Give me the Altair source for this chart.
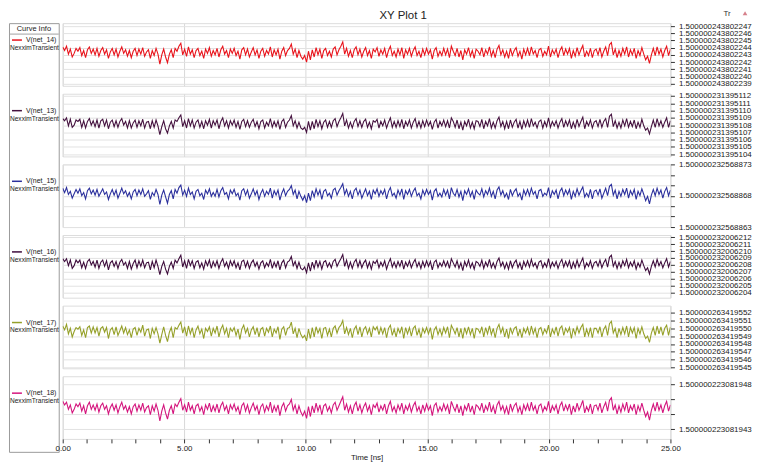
import json
import altair as alt
import numpy as np
import pandas as pd

TITLE = "XY Plot 1"
X_TITLE = "Time [ns]"
LEGEND_HEADER = "Curve Info"
SOURCE = "NexximTransient"
CORNER_TEXT = "Tr"
SERIES_NAMES = ["V(net_14)", "V(net_13)", "V(net_15)", "V(net_16)", "V(net_17)", "V(net_18)"]
COLORS = ["#e8141c", "#45123f", "#2b2f9c", "#3e0c3c", "#95a029", "#d4157d"]
PREFIXES = ["1.500000243802", "1.500000231395", "1.500000232568",
            "1.500000232006", "1.500000263419", "1.50000022308"]
# level of each trace (last digits of the voltage, in 1e-15 V)
BASES = [243.3, 108.2, 868.3, 208.1, 549.6, 1945.3]
DOMAINS = [[238.7, 247.4], [103.7, 112.3], [863, 873], [203.3, 212.3], [544.9, 552.9], [1941.9, 1948.9]]
TICKS = [list(range(239, 248)), list(range(104, 113)),
         [863, 864.667, 866.333, 868, 869.667, 871.333, 873],
         list(range(204, 213)), list(range(545, 553)),
         [1943, 1944.667, 1946.333, 1948]]
LABELED = [list(range(239, 248)), list(range(104, 113)), [863, 868, 873],
           list(range(204, 213)), list(range(545, 553)), [1943, 1948]]
X_TICKS = list(range(0, 26))

# deviations from the trace level, in units of 0.1e-15 V
NET14 = [8,3,9,-2,5,-6,-1,6,2,7,-4,3,-7,4,8,-1,5,-3,6,-5,
         3,7,-2,4,-8,1,6,-3,5,-6,2,8,-1,4,-5,3,-7,2,6,-4,
         5,-2,7,-5,1,4,-8,3,-4,6,-2,-16,-3,5,-6,-14,-2,4,-7,6,
         2,9,13,-3,5,-5,8,-2,4,-7,3,6,-4,2,-8,5,-1,7,-5,3,
         -3,6,-6,4,9,-2,3,-7,5,-1,6,-4,2,-9,4,7,-3,5,-6,1,
         7,-3,4,-8,2,6,-5,3,-2,8,-6,4,-3,5,-9,2,7,-4,3,6,
         12,-2,5,-7,3,-5,-9,-4,-13,2,-10,4,-6,7,-3,5,-8,3,6,-4,
         2,-6,5,8,-3,4,9,15,-2,6,-5,3,-7,4,8,-3,5,-6,2,7,
         -4,3,-8,5,1,7,-5,4,-2,6,-7,3,9,-4,2,-6,5,-3,7,-8,
         4,-2,6,-5,3,8,-4,2,-7,5,-3,6,-2,4,-9,3,7,-5,2,-4,
         6,-3,5,-7,9,2,-4,6,-6,3,-10,4,-2,7,-5,3,-8,5,2,-3,
         7,-6,4,-2,8,-5,3,-7,5,10,-3,4,-6,2,-8,6,-4,3,7,-5,
         2,-9,5,-3,6,-4,8,-2,3,-7,4,6,-5,2,-3,9,-6,4,-2,5,
         -7,3,8,-4,5,-2,6,-8,3,-5,7,-3,4,10,-6,2,-4,6,-7,3,
         5,-3,7,-6,2,8,-4,11,14,-3,5,-7,3,-5,6,-2,8,-6,4,-3,
         6,-8,3,-4,7,-2,-10,-5,-15,-3,6,-4,8,-2,5,-6,3,9,-4,5]
NET13 = [7,4,8,-3,6,-5,-2,5,3,6,-5,4,-6,3,7,-2,4,-4,5,-6,
         4,6,-3,5,-7,2,5,-4,4,-5,3,7,-2,3,-6,4,-6,1,5,-5,
         4,-3,6,-6,2,3,-7,4,-5,5,-3,-15,-4,4,-7,-13,-3,3,-6,5,
         3,8,12,-4,4,-6,7,-3,5,-6,2,5,-5,3,-7,4,-2,6,-6,4,
         -2,5,-7,3,8,-3,4,-6,4,-2,5,-5,3,-8,3,6,-4,4,-5,2,
         6,-4,3,-7,3,5,-6,2,-3,7,-5,3,-4,4,-8,3,6,-5,2,5,
         11,-3,4,-6,2,-6,-8,-5,-12,3,-9,3,-7,6,-4,4,-7,2,5,-5,
         3,-5,4,7,-4,3,8,14,-3,5,-6,2,-6,3,7,-4,4,-5,3,6,
         -5,2,-7,4,2,6,-6,3,-3,5,-6,2,8,-5,3,-5,4,-4,6,-7,
         3,-3,5,-6,2,7,-5,3,-6,4,-4,5,-3,3,-8,2,6,-6,3,-3,
         5,-4,4,-6,8,3,-5,5,-7,2,-9,3,-3,6,-6,2,-7,4,3,-4,
         6,-7,3,-3,7,-6,2,-6,4,9,-4,3,-7,3,-7,5,-5,2,6,-6,
         3,-8,4,-4,5,-5,7,-3,2,-6,3,5,-6,3,-4,8,-5,3,-3,4,
         -6,2,7,-5,4,-3,5,-7,2,-6,6,-4,3,9,-7,3,-3,5,-6,2,
         4,-4,6,-5,3,7,-5,10,13,-4,4,-6,2,-6,5,-3,7,-5,3,-4,
         5,-7,2,-5,6,-3,-9,-6,-14,-4,5,-5,7,-3,4,-5,2,8,-5,4]
NET15 = [9,2,10,-1,4,-7,0,7,1,8,-3,2,-8,5,9,0,6,-2,7,-4,
         2,8,-1,3,-9,0,7,-2,6,-7,1,9,0,5,-4,2,-8,3,7,-3,
         6,-1,8,-4,0,5,-9,2,-3,7,-1,-17,-2,6,-5,-15,-1,5,-8,7,
         1,10,14,-2,6,-4,9,-1,3,-8,4,7,-3,1,-9,6,0,8,-4,2,
         -4,7,-5,5,10,-1,2,-8,6,0,7,-3,1,-10,5,8,-2,6,-7,0,
         8,-2,5,-9,1,7,-4,4,-1,9,-7,5,-2,6,-10,1,8,-3,4,7,
         13,-1,6,-8,4,-4,-10,-3,-14,1,-11,5,-5,8,-2,6,-9,4,7,-3,
         1,-7,6,9,-2,5,10,16,-1,7,-4,4,-8,5,9,-2,6,-7,1,8,
         -3,4,-9,6,0,8,-4,5,-1,7,-8,4,10,-3,1,-7,6,-2,8,-9,
         5,-1,7,-4,4,9,-3,1,-8,6,-2,7,-1,5,-10,4,8,-4,1,-5,
         7,-2,6,-8,10,1,-3,7,-5,4,-11,5,-1,8,-4,4,-9,6,1,-2,
         8,-5,5,-1,9,-4,4,-8,6,11,-2,5,-5,1,-9,7,-3,4,8,-4,
         1,-10,6,-2,7,-3,9,-1,4,-8,5,7,-4,1,-2,10,-7,5,-1,6,
         -8,4,9,-3,6,-1,7,-9,4,-4,8,-2,5,11,-5,1,-5,7,-8,4,
         6,-2,8,-7,1,9,-3,12,15,-2,6,-8,4,-4,7,-1,9,-7,5,-2,
         7,-9,4,-3,8,-1,-11,-4,-16,-2,7,-3,9,-1,6,-7,4,10,-3,6]
NET16 = [8,4,8,-2,6,-6,-2,6,2,6,-5,3,-6,4,7,-1,4,-4,6,-6,
         3,6,-3,5,-8,2,5,-3,4,-6,3,7,-1,3,-6,4,-7,1,6,-5,
         5,-3,6,-5,2,3,-8,4,-5,6,-3,-15,-3,4,-7,-14,-3,3,-6,6,
         2,8,13,-4,5,-6,7,-2,5,-6,3,5,-5,2,-7,5,-2,6,-6,4,
         -3,5,-6,3,8,-3,3,-6,5,-2,5,-5,2,-8,4,6,-4,4,-6,2,
         6,-3,3,-7,2,5,-5,2,-3,7,-6,3,-4,5,-8,2,6,-5,3,5,
         11,-2,4,-6,3,-6,-8,-4,-12,2,-10,3,-6,6,-4,4,-7,3,5,-4,
         2,-5,4,7,-3,3,8,14,-3,6,-6,3,-6,3,7,-4,5,-5,2,6,
         -5,3,-7,4,1,6,-5,3,-3,5,-7,2,8,-4,3,-5,4,-3,6,-7,
         3,-3,5,-5,2,7,-4,3,-6,4,-4,5,-3,4,-8,3,6,-5,2,-3,
         5,-3,4,-6,8,2,-4,5,-6,2,-9,4,-3,6,-5,2,-7,4,2,-3,
         6,-6,3,-3,7,-5,2,-6,4,9,-3,3,-6,2,-7,5,-5,2,6,-5,
         2,-8,4,-3,5,-4,7,-3,2,-6,3,5,-5,2,-4,8,-5,3,-3,4,
         -6,2,7,-4,4,-3,5,-7,3,-5,6,-4,3,9,-6,2,-3,5,-6,2,
         4,-3,6,-5,2,7,-4,10,13,-3,4,-6,3,-5,5,-2,7,-5,3,-3,
         5,-7,2,-4,6,-2,-9,-5,-14,-3,5,-4,7,-2,4,-5,2,8,-4,4]
NET17 = [7,2,9,-3,4,-7,0,5,3,6,-5,2,-8,5,7,-2,6,-2,5,-6,
         4,6,-1,5,-9,2,5,-4,6,-5,1,7,-2,5,-4,2,-8,3,5,-5,
         4,-1,8,-6,2,3,-9,4,-3,5,-3,-15,-4,6,-5,-13,-1,5,-8,5,
         3,8,12,-2,6,-6,7,-3,5,-8,2,7,-3,3,-9,4,0,6,-6,4,
         -2,7,-7,3,8,-3,4,-8,4,0,5,-5,3,-10,3,8,-2,4,-7,2,
         6,-4,5,-7,3,5,-6,4,-1,7,-7,3,-2,6,-10,3,6,-5,4,5,
         12,-3,4,-8,4,-4,-8,-5,-12,3,-9,5,-7,6,-2,4,-9,4,5,-5,
         3,-7,4,7,-2,5,8,14,-3,5,-4,4,-8,3,7,-4,6,-7,3,6,
         -3,4,-7,6,2,6,-4,5,-3,5,-8,4,8,-5,3,-7,4,-2,6,-9,
         5,-3,5,-6,4,7,-5,3,-8,4,-2,5,-3,5,-10,2,6,-4,3,-5,
         5,-2,6,-8,8,3,-3,5,-7,4,-9,5,-3,6,-4,4,-9,4,3,-2,
         6,-7,5,-3,7,-4,4,-8,4,9,-2,5,-7,3,-9,5,-3,4,6,-6,
         3,-8,4,-2,5,-5,7,-3,4,-8,3,5,-4,3,-2,8,-7,3,-3,6,
         -6,4,7,-5,4,-1,5,-9,4,-4,6,-2,5,9,-7,3,-5,5,-8,4,
         4,-2,6,-7,3,7,-5,10,13,-2,4,-8,4,-4,5,-3,7,-7,5,-2,
         5,-9,4,-3,6,-3,-9,-6,-14,-2,5,-5,7,-3,6,-5,4,8,-5,6]
NET18 = [8,4,7,-1,4,-5,-1,5,2,6,-3,3,-6,3,7,-1,4,-2,5,-4,
         3,6,-1,3,-6,1,5,-2,4,-5,2,7,-1,3,-4,2,-6,2,5,-3,
         4,-2,6,-4,1,3,-7,3,-3,5,-2,-14,-3,4,-5,-12,-2,3,-6,5,
         2,7,11,-2,4,-4,7,-2,3,-6,3,5,-3,2,-7,4,-1,6,-4,3,
         -3,5,-5,3,7,-2,3,-6,4,-1,5,-3,2,-7,3,6,-3,4,-5,1,
         6,-2,3,-7,2,5,-4,3,-2,7,-5,3,-3,4,-8,2,6,-3,3,5,
         10,-2,4,-6,3,-4,-8,-3,-11,2,-9,3,-5,6,-3,4,-7,3,5,-3,
         2,-5,4,7,-2,3,8,13,-2,5,-4,3,-6,3,7,-3,4,-5,2,6,
         -3,3,-7,4,1,6,-4,3,-2,5,-6,3,8,-3,2,-5,4,-2,6,-6,
         3,-2,5,-4,3,7,-3,2,-6,4,-3,5,-2,3,-8,3,6,-4,2,-3,
         5,-2,4,-6,8,2,-3,5,-5,3,-8,3,-2,6,-4,3,-7,4,2,-2,
         6,-5,3,-2,7,-4,3,-6,4,8,-2,3,-5,2,-7,5,-3,3,6,-4,
         2,-7,4,-2,5,-3,7,-2,3,-6,3,5,-4,2,-2,8,-5,3,-2,4,
         -6,3,7,-3,4,-2,5,-7,3,-4,6,-2,3,9,-5,2,-3,5,-6,3,
         4,-2,6,-5,2,7,-3,9,12,-2,4,-6,3,-4,5,-2,7,-5,3,-2,
         5,-7,3,-3,6,-2,-9,-4,-13,-2,5,-3,7,-2,4,-5,3,8,-3,4]
SERIES = [NET14, NET13, NET15, NET16, NET17, NET18]

T = np.linspace(0, 25, len(NET14))  # uniform sample times, ns

PW, PH, GAP = 611, 63, 8
TITLE_H = 13
LEG_W = 50
FONT = "Liberation Sans"


def panel(k, last):
    df = pd.DataFrame({"t": T, "v": BASES[k] + np.array(SERIES[k]) / 10.0})
    label_expr = (f"indexof({json.dumps(LABELED[k])}, datum.value) >= 0 ? "
                  f"'{PREFIXES[k]}' + datum.value : ''")
    yaxis = alt.Axis(orient="right", values=TICKS[k], labelExpr=label_expr, title=None,
                     domain=False, grid=True, gridColor="#e2e2e2", gridWidth=1,
                     tickSize=4, tickColor="#333", labelFontSize=8, labelColor="#222",
                     labelPadding=4, labelOverlap=False, labelFlush=False, labelBound=False)
    if last:
        xaxis = alt.Axis(values=X_TICKS,
                         labelExpr="datum.value % 5 === 0 ? format(datum.value, '.2f') : ''",
                         title=X_TITLE, titleFontSize=8, titleFontWeight="normal",
                         titleColor="#222", titlePadding=1, domain=False, grid=True,
                         gridColor={"condition": {"test": "datum.value % 5 === 0", "value": "#d9d9d9"},
                                    "value": "transparent"},
                         tickSize=4, tickColor="#333", labelFontSize=8, labelColor="#222",
                         labelPadding=2, labelOverlap=False, labelFlush=False)
    else:
        xaxis = alt.Axis(values=[0, 5, 10, 15, 20, 25], labels=False, ticks=False, domain=False,
                         grid=True, gridColor="#d9d9d9", title=None)
    line = alt.Chart(df).mark_line(color=COLORS[k], strokeWidth=1.1, clip=True).encode(
        x=alt.X("t:Q", scale=alt.Scale(domain=[0, 25], nice=False, zero=False), axis=xaxis),
        y=alt.Y("v:Q", scale=alt.Scale(domain=DOMAINS[k], nice=False, zero=False), axis=yaxis),
    )
    if k == 0:
        one = alt.Data(values=[{"a": 1}])
        tr = alt.Chart(one).mark_text(fontSize=8, align="center", baseline="middle", color="#333").encode(
            x=alt.value(668), y=alt.value(-9), text=alt.value(CORNER_TEXT))
        icon = alt.Chart(one).mark_point(shape="triangle-up", filled=True, size=22, color="#c44a5a").encode(
            x=alt.value(686), y=alt.value(-10))
        return alt.layer(line, tr, icon).properties(width=PW, height=PH)
    return line.properties(width=PW, height=PH)


panels = [panel(k, k == len(SERIES) - 1) for k in range(len(SERIES))]
right = alt.vconcat(*panels, spacing=GAP, bounds="flush",
                    title=alt.Title(TITLE, fontSize=11.5, fontWeight="normal", anchor="middle",
                                    offset=-12, color="#222", font=FONT))

one = alt.Data(values=[{"a": 1}])
layers = [
    alt.Chart(one).mark_text(fontSize=7.5, align="center", baseline="middle", color="#222").encode(
        x=alt.value(LEG_W / 2), y=alt.value(6), text=alt.value(LEGEND_HEADER)),
    alt.Chart(one).mark_rule(color="#a0a0a0", strokeWidth=1).encode(
        x=alt.value(0), x2=alt.value(LEG_W), y=alt.value(11)),
]
for k in range(len(SERIES)):
    top = TITLE_H + k * (PH + GAP)
    layers.append(alt.Chart(one).mark_rule(color=COLORS[k], strokeWidth=1.5).encode(
        x=alt.value(3), x2=alt.value(13), y=alt.value(top + 4)))
    layers.append(alt.Chart(one).mark_text(fontSize=7, align="left", baseline="middle", color="#222").encode(
        x=alt.value(17), y=alt.value(top + 4), text=alt.value(SERIES_NAMES[k])))
    layers.append(alt.Chart(one).mark_text(fontSize=6.6, align="left", baseline="middle", color="#222").encode(
        x=alt.value(1), y=alt.value(top + 12), text=alt.value(SOURCE)))
legend = alt.layer(*layers).properties(
    width=LEG_W, height=TITLE_H + 6 * PH + 5 * GAP,
    view=alt.ViewBackground(stroke="#9a9a9a", strokeWidth=1))

chart = alt.hconcat(legend, right, spacing=4, bounds="flush").properties(padding=0).configure_view(
    stroke="#555555", strokeWidth=1.2
).configure(font=FONT)

chart.save("out.html", embed_options={"renderer": "svg", "actions": False})
